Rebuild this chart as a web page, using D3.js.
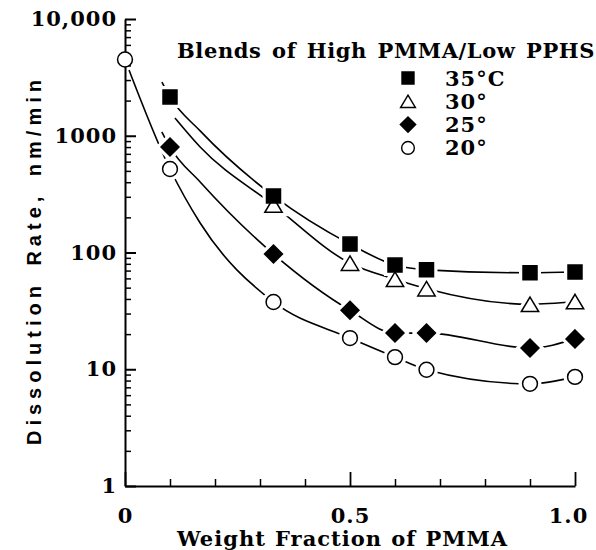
<!DOCTYPE html>
<html>
<head>
<meta charset="utf-8">
<script src="https://cdn.jsdelivr.net/npm/d3@7"></script>
<style>
  body { margin: 0; background: #fff; }
  svg  { display: block; }
</style>
</head>
<body>
<svg id="chart" width="596" height="550"></svg>
<script>
// weight fraction of PMMA where the blends were measured
const fractions = [0, 0.1, 0.33, 0.5, 0.6, 0.67, 0.9, 1.0];

// dissolution rate, nm/min (null = no point)
const rate35 = [null, 2150, 305, 118, 78, 71, 67, 68];
const rate30 = [null, null, 255, 81, 59, 49, 36, 38];
const rate25 = [null, 800, 97, 32, 20.4, 20.4, 15.2, 18.2];
const rate20 = [4500, 519, 37.7, 18.5, 12.7, 9.9, 7.5, 8.6];

// extra points (where no marker sits)
const fit35 = [[0.082, 2880], [0.167, 1100]];
const fit30 = [[0.111, 1419], [0.167, 801]];
const fit25 = [[0.082, 1077], [0.167, 402]];
const fit20 = [[0.167, 179]];

const legendLabels = ['35\u00B0C', '30\u00B0', '25\u00B0', '20\u00B0'];
const legendTitle  = 'Blends of High PMMA/Low PPHS';

const yMajor  = [1, 10, 100, 1000, 10000];
const yLabels = ['1', '10', '100', '1000', '10,000'];
const xMinor  = [0.1, 0.2, 0.3, 0.4, 0.6, 0.7, 0.8, 0.9];
const xMajor  = [0, 0.5, 1.0];
const xLabels = ['0', '0.5', '1.0'];

const series = [
  { key: '20', rates: rate20, fit: fit20, shape: 'circle'  },
  { key: '25', rates: rate25, fit: fit25, shape: 'diamond' },
  { key: '30', rates: rate30, fit: fit30, shape: 'triangle'},
  { key: '35', rates: rate35, fit: fit35, shape: 'square'  }
];

const SERIF = "'DejaVu Serif', serif";
const SANS  = "'Liberation Sans', Arial, sans-serif";

const svg = d3.select('#chart');

const x = d3.scaleLinear().domain([0, 1]).range([125, 575]);
const y = d3.scaleLog().domain([1, 10000]).range([486, 19]);

// marker path builders, centred on 0,0
function shapePath(shape, s) {
  const p = d3.path();
  if (shape === 'square') {
    p.rect(-s * 0.5, -s * 0.5, s, s);
  } else if (shape === 'circle') {
    p.arc(0, 0, s * 0.53, 0, 2 * Math.PI);
  } else if (shape === 'diamond') {
    const r = s * 0.64;
    p.moveTo(0, -r); p.lineTo(r, 0); p.lineTo(0, r); p.lineTo(-r, 0); p.closePath();
  } else { // triangle
    const w = s * 0.62, h = s * 0.52;
    p.moveTo(0, -h); p.lineTo(w, h); p.lineTo(-w, h); p.closePath();
  }
  return p.toString();
}
const filled = shape => shape === 'square' || shape === 'diamond';

// fitted curves
const line = d3.line()
  .x(d => x(d[0]))
  .y(d => y(d[1]))
  .curve(d3.curveMonotoneX);

const curves = svg.append('g');
series.forEach(s => {
  const pts = fractions
    .map((f, i) => [f, s.rates[i]])
    .filter(d => d[1] != null)
    .concat(s.fit)
    .sort((a, b) => a[0] - b[0]);
  curves.append('path')
    .attr('d', line(pts))
    .attr('fill', 'none')
    .attr('stroke', '#000')
    .attr('stroke-width', 1.6);
});

// white halos to break the curves round each marker
const halos = svg.append('g');
series.forEach(s => {
  fractions.forEach((f, i) => {
    if (s.rates[i] == null) return;
    halos.append('path')
      .attr('transform', `translate(${x(f)},${y(s.rates[i])})`)
      .attr('d', shapePath(s.shape, 14))
      .attr('fill', '#fff')
      .attr('stroke', '#fff')
      .attr('stroke-width', 8);
  });
});

// y axis: ticks pointing inwards, labels on the left
const yMinor = [];
for (let d = 1; d < 10000; d *= 10) for (let k = 2; k <= 9; k++) yMinor.push(d * k);

svg.append('g')
  .attr('transform', `translate(${x(0)},0)`)
  .call(d3.axisLeft(y).tickValues(yMinor).tickSizeInner(-6).tickSizeOuter(0).tickFormat(''))
  .call(g => g.select('.domain').remove())
  .call(g => g.selectAll('line').attr('stroke', '#000').attr('stroke-width', 1.5));

svg.append('g')
  .attr('transform', `translate(${x(0)},0)`)
  .call(d3.axisLeft(y).tickValues(yMajor).tickSizeInner(-11).tickSizeOuter(0).tickPadding(8)
    .tickFormat((d, i) => yLabels[i]))
  .call(g => g.select('.domain').attr('stroke', '#000').attr('stroke-width', 2))
  .call(g => g.selectAll('line').attr('stroke', '#000').attr('stroke-width', 2))
  .call(g => g.selectAll('text')
    .attr('fill', '#000')
    .style('font-family', SERIF).style('font-weight', 'bold')
    .style('font-size', '21px').style('letter-spacing', '1px'));

// x axis
svg.append('g')
  .attr('transform', `translate(0,${y(1)})`)
  .call(d3.axisBottom(x).tickValues(xMinor).tickSizeInner(-7).tickSizeOuter(0).tickFormat(''))
  .call(g => g.select('.domain').remove())
  .call(g => g.selectAll('line').attr('stroke', '#000').attr('stroke-width', 1.5));

svg.append('g')
  .attr('transform', `translate(0,${y(1)})`)
  .call(d3.axisBottom(x).tickValues(xMajor).tickSizeInner(-14).tickSizeOuter(0).tickPadding(22)
    .tickFormat((d, i) => xLabels[i]))
  .call(g => g.select('.domain').attr('stroke', '#000').attr('stroke-width', 2))
  .call(g => g.selectAll('line').attr('stroke', '#000').attr('stroke-width', 1.8))
  .call(g => g.selectAll('text')
    .attr('fill', '#000')
    .attr('dx', d => d === 1 ? -7 : 0)
    .style('font-family', SERIF).style('font-weight', 'bold')
    .style('font-size', '21px').style('letter-spacing', '1px'));

// markers
const marks = svg.append('g');
series.forEach(s => {
  fractions.forEach((f, i) => {
    if (s.rates[i] == null) return;
    marks.append('path')
      .attr('transform', `translate(${x(f)},${y(s.rates[i])})`)
      .attr('d', shapePath(s.shape, 14))
      .attr('fill', filled(s.shape) ? '#000' : '#fff')
      .attr('stroke', '#000')
      .attr('stroke-width', 1.5);
  });
});

// stretch word gaps so a text spans a given width
function fitWords(sel, width) {
  const natural = sel.node().getComputedTextLength();
  const gaps = sel.text().split(' ').length - 1;
  if (gaps > 0) sel.style('word-spacing', ((width - natural) / gaps) + 'px');
}

// legend
const title = svg.append('text')
  .attr('x', 177).attr('y', 58)
  .style('font-family', SERIF).style('font-weight', 'bold')
  .style('font-size', '21px').style('letter-spacing', '0.6px')
  .text(legendTitle);
fitWords(title, 418);

const legendShapes = ['square', 'triangle', 'diamond', 'circle'];
legendLabels.forEach((lab, i) => {
  const cy = 78 + i * 23.3;
  svg.append('path')
    .attr('transform', `translate(408,${cy})`)
    .attr('d', shapePath(legendShapes[i], 12))
    .attr('fill', filled(legendShapes[i]) ? '#000' : '#fff')
    .attr('stroke', '#000')
    .attr('stroke-width', 1.4);
  svg.append('text')
    .attr('x', 445).attr('y', cy + 7.5)
    .style('font-family', SERIF).style('font-weight', 'bold')
    .style('font-size', '21px').style('letter-spacing', '1px')
    .text(lab);
});

// axis titles
const xTitle = svg.append('text')
  .attr('x', 177).attr('y', 546)
  .style('font-family', SERIF).style('font-weight', 'bold')
  .style('font-size', '21px').style('letter-spacing', '1px')
  .text('Weight Fraction of PMMA');
fitWords(xTitle, 331);

const yTitle = svg.append('text')
  .attr('transform', 'translate(41,445) rotate(-90)')
  .style('font-family', SANS).style('font-weight', 'bold')
  .style('font-size', '20px').style('letter-spacing', '5px')
  .text('Dissolution Rate, nm/min');
fitWords(yTitle, 370);
</script>
</body>
</html>
